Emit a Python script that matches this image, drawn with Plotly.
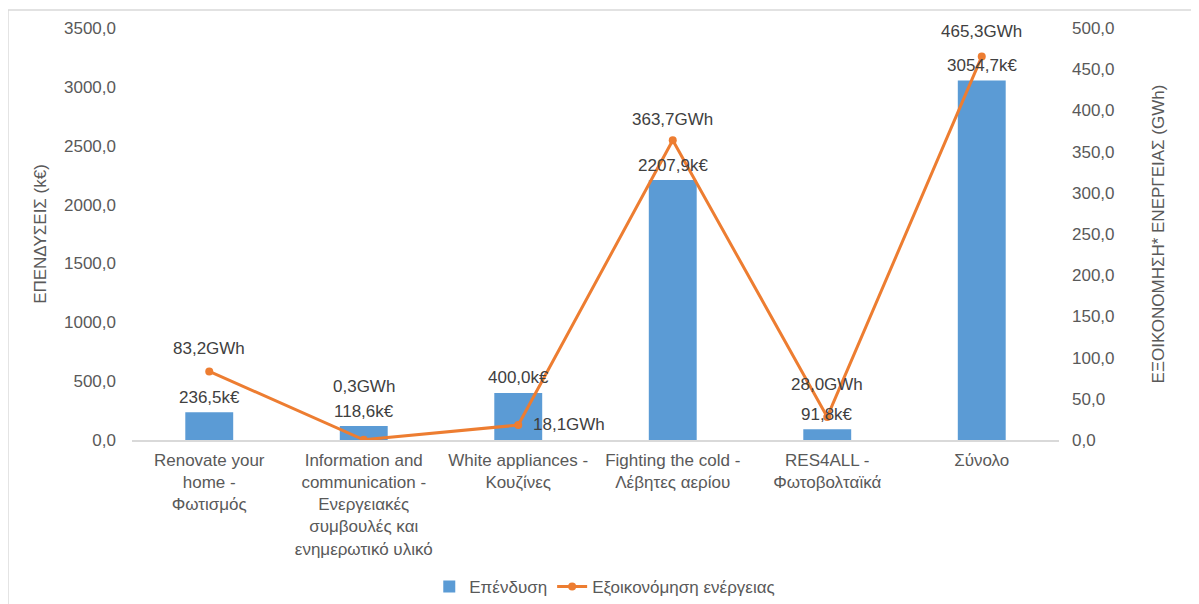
import plotly.graph_objects as go

categories = [
    "Renovate your<br>home -<br>Φωτισμός",
    "Information and<br>communication -<br>Ενεργειακές<br>συμβουλές και<br>ενημερωτικό υλικό",
    "White appliances -<br>Κουζίνες",
    "Fighting the cold -<br>Λέβητες αερίου",
    "RES4ALL -<br>Φωτοβολταϊκά",
    "Σύνολο",
]
investment_keur = [236.5, 118.6, 400.0, 2207.9, 91.8, 3054.7]
savings_gwh = [83.2, 0.3, 18.1, 363.7, 28.0, 465.3]
left_ticks = [0, 500, 1000, 1500, 2000, 2500, 3000, 3500]
right_ticks = [0, 50, 100, 150, 200, 250, 300, 350, 400, 450, 500]


def gr(v):
    return f"{v:.1f}".replace(".", ",")


FONT = "Liberation Sans, Arial, Helvetica, sans-serif"
TXT = "#595959"
LBL = "#404040"
BLUE = "#5B9BD5"
ORANGE = "#ED7D31"
FS = 17

fig = go.Figure()
fig.add_trace(go.Bar(
    x=categories, y=investment_keur, name="Επένδυση",
    marker=dict(color=BLUE, line=dict(width=0)), yaxis="y",
))
fig.add_trace(go.Scatter(
    x=categories, y=savings_gwh, name="Εξοικονόμηση ενέργειας",
    mode="lines+markers", line=dict(color=ORANGE, width=3),
    marker=dict(color=ORANGE, size=8), yaxis="y2",
))

annotations = []
# bar labels
for c, v in zip(categories, investment_keur):
    annotations.append(dict(x=c, y=v, xref="x", yref="y", text=gr(v) + "k€",
                            showarrow=False, yshift=15, yanchor="middle",
                            font=dict(size=FS, color=LBL, family=FONT)))
# line labels (shift per point, as placed in the original)
line_shift = [(0, 23, "center"), (0, 53, "center"), (13, 1, "left"),
              (0, 21, "center"), (0, 32, "center"), (0, 25, "center")]
for c, v, (dx, dy, xa) in zip(categories, savings_gwh, line_shift):
    annotations.append(dict(x=c, y=v, xref="x", yref="y2", text=gr(v) + "GWh",
                            showarrow=False, xshift=dx, yshift=dy, xanchor=xa,
                            yanchor="middle",
                            font=dict(size=FS, color=LBL, family=FONT)))

fig.update_layout(
    width=1191, height=596,
    margin=dict(l=124, r=140, t=20, b=164, autoexpand=False),
    paper_bgcolor="white", plot_bgcolor="white",
    font=dict(family=FONT, size=FS, color=TXT),
    bargap=0.69,
    showlegend=True,
    legend=dict(orientation="h", x=0.51, xanchor="center",
                yref="container", y=0.0285, yanchor="middle",
                font=dict(size=FS, color=TXT), itemwidth=30),
    xaxis=dict(
        showgrid=False, showline=True, linecolor="#d9d9d9", linewidth=1.5,
        ticks="", tickfont=dict(size=FS, color=TXT), ticklabelstandoff=4,
        automargin=False,
    ),
    yaxis=dict(
        range=[0, 3500], tickvals=left_ticks, ticktext=[gr(t) for t in left_ticks],
        showgrid=False, zeroline=False, showline=False, ticks="",
        tickfont=dict(size=FS, color=TXT), ticklabelstandoff=15, automargin=False,
        title=dict(text="ΕΠΕΝΔΥΣΕΙΣ (k€)", font=dict(size=FS, color=TXT), standoff=13),
    ),
    yaxis2=dict(
        range=[0, 500], tickvals=right_ticks, ticktext=[gr(t) for t in right_ticks],
        overlaying="y", side="right", showgrid=False, zeroline=False, showline=False,
        ticks="", tickfont=dict(size=FS, color=TXT), ticklabelstandoff=12,
        automargin=False,
        title=dict(text="ΕΞΟΙΚΟΝΟΜΗΣΗ* ΕΝΕΡΓΕΙΑΣ (GWh)", font=dict(size=FS, color=TXT),
                   standoff=38),
    ),
    annotations=annotations,
    shapes=[
        dict(type="line", xref="paper", yref="paper", x0=-0.1338, x1=-0.1338,
             y0=1.0437, y1=-0.40, line=dict(color="#d9d9d9", width=1.5)),
        dict(type="line", xref="paper", yref="paper", x0=-0.1338, x1=1.16,
             y0=1.0437, y1=1.0437, line=dict(color="#d9d9d9", width=1.5)),
    ],
)

fig.write_html("out.html")
